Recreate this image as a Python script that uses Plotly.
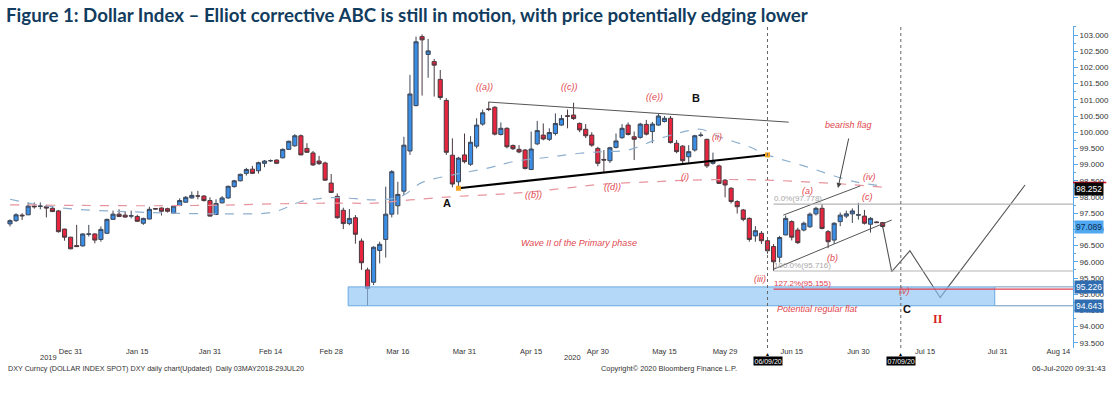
import math
import pandas as pd
import plotly.graph_objects as go

# ---------------- data ----------------
first_day = "2019-12-17"

opens = [97.17, 97.27, 97.44, 97.45, 97.72, 97.71, 97.70, 97.65, 97.57, 97.01,
         96.76, 96.50, 96.49, 96.85, 96.86, 96.69, 96.88, 97.31, 97.47, 97.44,
         97.41, 97.40, 97.19, 97.32, 97.64, 97.66, 97.64, 97.50, 97.74, 97.84,
         97.97, 98.03, 98.03, 97.89, 97.46, 97.82, 97.97, 98.32, 98.50, 98.73,
         98.86, 98.81, 99.04, 99.12, 99.14, 99.21, 99.47, 99.58, 99.89, 99.50,
         99.36, 99.11, 99.05, 98.43, 98.02, 97.59, 97.18, 97.36, 96.64, 95.75,
         95.37, 96.35, 96.69, 97.47, 97.73, 98.18, 99.42, 100.82, 102.95, 102.40,
         102.18, 101.63, 100.98, 99.29, 98.47, 99.30, 99.01, 99.57, 100.25, 100.72,
         100.77, 99.93, 100.12, 99.59, 99.47, 99.45, 98.85, 99.64, 99.91, 99.78,
         99.96, 100.22, 100.51, 100.53, 100.27, 100.09, 99.91, 99.50, 99.16, 99.12,
         99.53, 99.83, 100.22, 99.86, 99.84, 100.24, 100.02, 100.22, 100.33, 100.43,
         99.66, 99.57, 99.24, 99.45, 99.90, 99.78, 99.04, 98.96, 98.52, 98.27,
         97.86, 97.60, 97.34, 96.80, 96.88, 96.65, 96.47, 96.14, 96.83, 97.24,
         96.98, 96.98, 97.08, 97.48, 97.65, 96.93, 96.67, 97.24, 97.41, 97.48,
         97.44, 97.41, 97.16, 97.23, 97.21]
highs = [97.31, 97.50, 97.50, 97.83, 97.83, 97.83, 97.76, 97.72, 97.60, 97.02,
         96.77, 97.14, 96.88, 97.14, 96.88, 97.09, 97.33, 97.58, 97.62, 97.55,
         97.58, 97.45, 97.36, 97.70, 97.66, 97.68, 97.67, 97.74, 97.96, 98.03,
         98.17, 98.19, 98.05, 97.99, 97.93, 98.03, 98.35, 98.53, 98.72, 98.90,
         98.96, 99.09, 99.14, 99.16, 99.16, 99.50, 99.74, 99.94, 99.93, 99.66,
         99.42, 99.27, 99.09, 98.71, 98.11, 97.67, 97.63, 97.44, 96.72, 95.82,
         96.48, 96.62, 98.32, 98.83, 98.47, 99.86, 101.77, 102.95, 103.02, 102.88,
         102.26, 101.92, 101.05, 99.81, 99.24, 99.96, 99.88, 100.43, 100.70, 100.94,
         100.80, 100.30, 100.15, 99.62, 99.60, 99.48, 100.02, 100.35, 100.27, 100.12,
         100.58, 100.53, 100.70, 100.91, 100.30, 100.25, 100.00, 99.55, 99.45, 99.55,
         99.96, 100.25, 100.30, 100.02, 100.29, 100.38, 100.32, 100.56, 100.50, 100.50,
         99.76, 99.60, 99.60, 99.92, 100.00, 99.80, 99.37, 99.00, 98.55, 98.30,
         97.90, 97.63, 97.37, 97.10, 96.95, 96.75, 96.55, 96.80, 97.43, 97.28,
         97.05, 97.24, 97.52, 97.70, 97.78, 96.98, 97.22, 97.52, 97.58, 97.65,
         97.82, 97.60, 97.38, 97.25, 97.23]
lows = [97.09, 97.23, 97.29, 97.44, 97.64, 97.62, 97.37, 97.55, 96.90, 96.65,
        96.39, 96.47, 96.47, 96.78, 96.57, 96.62, 96.87, 97.30, 97.38, 97.36,
        97.34, 97.23, 97.14, 97.31, 97.61, 97.43, 97.52, 97.49, 97.72, 97.82,
        97.95, 97.93, 97.86, 97.40, 97.44, 97.80, 97.95, 98.29, 98.48, 98.66,
        98.71, 98.72, 98.92, 99.08, 99.03, 99.19, 99.45, 99.55, 99.29, 99.36,
        98.96, 98.99, 98.50, 98.12, 97.33, 97.01, 97.13, 96.56, 95.75, 94.65,
        95.28, 95.95, 96.13, 97.37, 97.46, 98.06, 99.30, 100.80, 101.13, 101.68,
        101.10, 101.00, 99.30, 98.30, 98.27, 99.04, 98.96, 99.50, 100.20, 100.65,
        99.90, 99.90, 99.50, 99.45, 99.35, 98.85, 98.83, 99.60, 99.75, 99.73,
        99.90, 100.20, 100.12, 100.38, 100.00, 99.82, 99.55, 98.95, 98.74, 99.05,
        99.50, 99.80, 99.90, 99.14, 99.80, 99.90, 99.66, 100.20, 100.30, 99.65,
        99.35, 99.04, 99.06, 99.40, 99.85, 98.90, 99.00, 98.40, 97.99, 97.80,
        97.49, 97.25, 96.62, 96.62, 96.55, 96.25, 95.72, 95.98, 96.82, 96.66,
        96.55, 96.94, 97.05, 97.43, 97.00, 96.42, 96.55, 97.10, 97.35, 97.20,
        97.30, 97.15, 96.90, 97.20, 97.05]
closes = [97.27, 97.45, 97.42, 97.72, 97.70, 97.72, 97.66, 97.55, 96.93, 96.76,
          96.40, 96.47, 96.86, 96.86, 96.67, 97.00, 97.31, 97.47, 97.40, 97.38,
          97.42, 97.25, 97.34, 97.62, 97.63, 97.56, 97.56, 97.72, 97.89, 97.99,
          98.05, 98.03, 97.89, 97.41, 97.80, 97.97, 98.33, 98.50, 98.70, 98.85,
          98.73, 99.06, 99.11, 99.12, 99.04, 99.47, 99.72, 99.89, 99.30, 99.38,
          98.99, 99.03, 98.52, 98.14, 97.36, 97.18, 97.34, 96.85, 95.97, 95.18,
          96.45, 96.54, 97.47, 98.78, 98.08, 99.60, 101.18, 102.79, 102.85, 102.51,
          102.07, 101.07, 99.38, 98.40, 99.20, 99.09, 99.69, 100.22, 100.60, 100.70,
          99.94, 100.12, 99.55, 99.49, 99.39, 98.88, 99.48, 100.05, 99.79, 99.99,
          100.27, 100.42, 100.49, 100.42, 100.07, 99.89, 99.60, 99.04, 99.14, 99.52,
          99.73, 100.12, 99.93, 99.78, 100.25, 99.94, 100.25, 100.50, 100.43, 99.68,
          99.40, 99.12, 99.40, 99.89, 99.91, 98.96, 99.10, 98.42, 98.37, 97.86,
          97.70, 97.31, 96.69, 96.96, 96.65, 96.34, 96.00, 96.75, 97.34, 96.76,
          96.59, 97.19, 97.47, 97.65, 97.03, 96.62, 97.19, 97.44, 97.48, 97.57,
          97.45, 97.19, 97.34, 97.21, 97.09]

# moving averages (candle number, value)
ma_fast_idx = [1, 6, 12, 20, 28, 36, 44, 47, 49, 54, 58, 61, 64, 66, 69, 74, 80, 84,
               90, 95, 99, 103, 108, 113, 115, 118, 123, 126, 132, 140, 145]
ma_fast_val = [97.93, 97.75, 97.62, 97.55, 97.50, 97.48, 97.52, 97.70, 97.86, 97.98,
               97.95, 97.91, 97.95, 98.06, 98.45, 98.68, 98.90, 99.09, 99.23, 99.35,
               99.40, 99.45, 99.79, 100.05, 100.09, 99.86, 99.55, 99.30, 98.96, 98.49, 98.34]
ma_slow_idx = [1, 12, 24, 36, 48, 56, 61, 67, 74, 81, 87, 94, 99, 107, 113, 120,
               126, 133, 140, 145]
ma_slow_val = [97.76, 97.74, 97.73, 97.75, 97.80, 97.81, 97.81, 97.91, 98.01, 98.08,
               98.16, 98.30, 98.40, 98.47, 98.52, 98.54, 98.52, 98.46, 98.38, 98.30]

# drawn analysis lines: (trading-day offset from first candle, price)
tri_upper_k = [79, 128.5]
tri_upper_p = [100.93, 100.31]
tri_lower_k = [74, 125]
tri_lower_p = [98.27, 99.30]
flag_upper_k = [127.6, 140.3]
flag_upper_p = [97.44, 98.34]
flag_lower_k = [126, 145.5]
flag_lower_p = [95.77, 97.29]
proj_k = [144, 145.5, 148.5, 153.5, 167.5]
proj_p = [97.09, 95.70, 96.34, 94.90, 98.37]

fib_start_k = 126
fib_levels = [97.778, 95.716, 95.155]
fib_labels = ["0.0%(97.778)", "100.0%(95.716)", "127.2%(95.155)"]
zone_k = [55.8, 162.5]
zone_p = [94.643, 95.226]
marker_dates = ["2020-06-09", "2020-07-09"]
marker_texts = ["06/09/20", "07/09/20"]

tag_values = [98.252, 97.089, 95.226, 94.643]

xtick_dates = ["2019-12-31", "2020-01-15", "2020-01-31", "2020-02-14", "2020-02-28",
               "2020-03-16", "2020-03-31", "2020-04-15", "2020-04-30", "2020-05-15",
               "2020-05-29", "2020-06-15", "2020-06-30", "2020-07-15", "2020-07-31",
               "2020-08-14"]
xtick_text = ["Dec 31", "Jan 15", "Jan 31", "Feb 14", "Feb 28", "Mar 16", "Mar 31",
              "Apr 15", "Apr 30", "May 15", "May 29", "Jun 15", "Jun 30", "Jul 15",
              "Jul 31", "Aug 14"]
ytick_vals = [93.5 + 0.5 * i for i in range(20)]

# ---------------- helpers ----------------
WD = pd.bdate_range("2019-11-01", "2020-12-31")
S0 = WD.get_loc(pd.Timestamp(first_day))


def tk(k):
    f = math.floor(k)
    return WD[S0 + f] + pd.Timedelta(days=k - f)


# pixel helpers for placing text labels
PX_DAY, X0 = 6.06, 10.0
PT, PB, PR = 26, 348, 1073


def xpx(px):
    return tk((px - X0) / PX_DAY)


def ypx(py):
    return 103 - (py - 35) / 32.4


def py_paper(py):
    return (PB - py) / (PB - PT)


dates = [tk(i) for i in range(len(opens))]
x_left, x_right = tk(-X0 / PX_DAY), tk((PR - X0) / PX_DAY)
y_bot, y_top = ypx(PB), ypx(PT)

fig = go.Figure()

fig.add_trace(go.Candlestick(
    x=dates, open=opens, high=highs, low=lows, close=closes,
    increasing=dict(fillcolor="#3a8ee6", line=dict(color="#3d4656", width=1)),
    decreasing=dict(fillcolor="#e8253f", line=dict(color="#4a3a40", width=1)),
    whiskerwidth=0, hoverinfo="skip", showlegend=False))

fig.add_trace(go.Scatter(
    x=[dates[i - 1] for i in ma_fast_idx], y=ma_fast_val, mode="lines",
    line=dict(color="#8eb0cf", width=1.2, dash="dash", shape="spline"),
    hoverinfo="skip", showlegend=False))
fig.add_trace(go.Scatter(
    x=[dates[i - 1] for i in ma_slow_idx], y=ma_slow_val, mode="lines",
    line=dict(color="#e8949e", width=1.2, dash="dash", shape="spline"),
    hoverinfo="skip", showlegend=False))

# analysis lines
for ks, ps, col, w in [(tri_upper_k, tri_upper_p, "#555555", 1),
                       (tri_lower_k, tri_lower_p, "#000000", 2.2),
                       (flag_upper_k, flag_upper_p, "#555555", 1),
                       (flag_lower_k, flag_lower_p, "#555555", 1),
                       (proj_k, proj_p, "#555555", 1.1)]:
    fig.add_trace(go.Scatter(x=[tk(k) for k in ks], y=ps, mode="lines",
                             line=dict(color=col, width=w), hoverinfo="skip",
                             showlegend=False))

fig.add_trace(go.Scatter(
    x=[tk(tri_lower_k[0]), tk(tri_lower_k[1])], y=tri_lower_p, mode="markers",
    marker=dict(symbol="square", size=5, color="#f5a623"),
    hoverinfo="skip", showlegend=False))

# clipped red "I" at the very top (only its foot shows, as in the reference)
fig.add_trace(go.Scatter(
    x=[xpx(434)], y=[ypx(22)], mode="text", text=["<b>I</b>"],
    textfont=dict(color="#e02020", size=10, family="Liberation Serif"),
    cliponaxis=True, hoverinfo="skip", showlegend=False))

shapes = []
# support zone
shapes.append(dict(type="rect", xref="x", yref="y", x0=tk(zone_k[0]), x1=tk(zone_k[1]),
                   y0=zone_p[0], y1=zone_p[1], fillcolor="rgba(140,195,245,0.65)",
                   line=dict(color="#6aa8e0", width=1), layer="above"))
for p in zone_p:
    shapes.append(dict(type="line", xref="x", yref="y", x0=tk(zone_k[1]), x1=x_right,
                       y0=p, y1=p, line=dict(color="#6f95bd", width=1)))
# fib lines
for lvl, col in zip(fib_levels, ["#b5b5b5", "#b5b5b5", "#e0404f"]):
    shapes.append(dict(type="line", xref="x", yref="y", x0=tk(fib_start_k), x1=x_right,
                       y0=lvl, y1=lvl, line=dict(color=col, width=1.2)))
# vertical date markers
for d in marker_dates:
    shapes.append(dict(type="line", xref="x", yref="paper", x0=d, x1=d, y0=0, y1=1,
                       line=dict(color="#666666", width=1, dash="dot")))
# red line on black tag
shapes.append(dict(type="line", xref="paper", yref="y", x0=1.0, x1=1.031,
                   y0=98.45, y1=98.45, line=dict(color="#d0021b", width=1.5)))

ann = []
red = "#e0474f"
red_labels = [("((a))", 484, 87), ("((c))", 569, 87), ("((e))", 654, 97),
              ("((b))", 533, 195), ("((d))", 612, 187), ("(i)", 685, 177),
              ("(ii)", 717, 137), ("(iii)", 760, 279), ("(iv)", 869, 177),
              ("(v)", 904, 291), ("(a)", 807, 191), ("(b)", 832, 258),
              ("(c)", 867, 197), ("bearish flag", 848, 125),
              ("Wave II of the Primary phase", 579, 243),
              ("Potential regular flat", 817, 309)]
for t, x, y in red_labels:
    ann.append(dict(x=xpx(x), y=ypx(y), text="<i>" + t + "</i>", showarrow=False,
                    font=dict(color=red, size=9, family="Liberation Sans")))
for t, x, y in [("A", 447, 203), ("B", 696, 98), ("C", 907, 309)]:
    ann.append(dict(x=xpx(x), y=ypx(y), text="<b>" + t + "</b>", showarrow=False,
                    font=dict(color="#111111", size=11, family="Liberation Sans")))
ann.append(dict(x=xpx(938), y=ypx(319), text="<b>II</b>", showarrow=False,
                font=dict(color="#d81e1e", size=12, family="Liberation Serif")))
# fib texts
for lbl, lvl, col in zip(fib_labels, fib_levels, ["#a8a8a8", "#a8a8a8", "#e0404f"]):
    ann.append(dict(x=tk(fib_start_k), y=lvl, text=lbl, showarrow=False,
                    xanchor="left", yanchor="bottom", xshift=-2, yshift=-1,
                    font=dict(color=col, size=8, family="Liberation Sans")))
# bearish flag arrow
ann.append(dict(x=xpx(838), y=ypx(188), ax=11, ay=-51, text="", showarrow=True,
                arrowhead=2, arrowsize=1, arrowwidth=1, arrowcolor="#444444"))

# title
ann.append(dict(xref="paper", yref="paper", x=4 / PR, y=py_paper(15), xanchor="left",
                yanchor="middle", showarrow=False,
                text="<b>Figure 1: Dollar Index \u2013 Elliot corrective ABC is still in motion, with price potentially edging lower</b>",
                font=dict(color="#123c5e", size=18.7, family="Lato")))

# price tags on the right axis
tag_styles = [("#0a0a0a", "#ffffff"), ("#4fa8f0", "#0c2c50"),
              ("#2f6db0", "#ffffff"), ("#2f6db0", "#ffffff")]
for v, (bg, fc) in zip(tag_values, tag_styles):
    ann.append(dict(xref="paper", yref="y", x=1.0, y=v, xanchor="left", xshift=1,
                    text="%.3f" % v, showarrow=False, bgcolor=bg, borderpad=1,
                    font=dict(color=fc, size=8.5, family="Liberation Sans")))

# date marker boxes under axis
for d, t in zip(marker_dates, marker_texts):
    ann.append(dict(x=d, xref="x", yref="paper", y=py_paper(366), text=t,
                    showarrow=False, bgcolor="#000000", borderpad=0.5,
                    font=dict(color="#ffffff", size=7, family="Liberation Sans")))
    ann.append(dict(x=d, xref="x", yref="paper", y=py_paper(358.5), text="\u25b2",
                    showarrow=False, font=dict(color="#000000", size=5)))

small = dict(color="#333333", size=7.5, family="Liberation Sans")
ann.append(dict(xref="paper", yref="paper", x=38 / PR, y=py_paper(364), text="2019",
                showarrow=False, font=small))
ann.append(dict(xref="paper", yref="paper", x=572 / PR, y=py_paper(364), text="2020",
                showarrow=False, font=small))
ann.append(dict(xref="paper", yref="paper", x=6 / PR, y=py_paper(375), xanchor="left",
                text="DXY Curncy (DOLLAR INDEX SPOT) DXY daily chart(Updated)  Daily 03MAY2018-29JUL20",
                showarrow=False, font=dict(color="#333333", size=7.2, family="Liberation Sans")))
ann.append(dict(xref="paper", yref="paper", x=669 / PR, y=py_paper(375),
                text="Copyright\u00a9 2020 Bloomberg Finance L.P.", showarrow=False,
                font=dict(color="#333333", size=7.4, family="Liberation Sans")))
ann.append(dict(xref="paper", yref="paper", x=1108 / PR, y=py_paper(375), xanchor="right",
                text="06-Jul-2020 09:31:43", showarrow=False,
                font=dict(color="#333333", size=7.8, family="Liberation Sans")))

fig.update_layout(
    width=1117, height=393, autosize=False,
    margin=dict(l=0, r=1117 - PR, t=PT, b=393 - PB),
    paper_bgcolor="white", plot_bgcolor="white",
    boxgap=0.2, boxgroupgap=0.15,
    shapes=shapes, annotations=ann, showlegend=False,
    xaxis=dict(type="date", range=[x_left, x_right],
               rangebreaks=[dict(bounds=["sat", "mon"])],
               rangeslider=dict(visible=False), showgrid=False, zeroline=False,
               showline=False, ticks="", ticklen=0, tickmode="array",
               tickvals=xtick_dates, ticktext=xtick_text, automargin=False,
               ticklabelstandoff=-3,
               tickfont=dict(size=7.5, color="#333333", family="Liberation Sans")),
    yaxis=dict(side="right", range=[y_bot, y_top], showgrid=False, zeroline=False,
               showline=True, linecolor="#5aa9e6", linewidth=1, automargin=False,
               ticks="outside", ticklen=4, tickcolor="#5aa9e6",
               tickmode="array", tickvals=ytick_vals, tickformat=".3f",
               tickfont=dict(size=8, color="#333333", family="Liberation Sans"),
               minor=dict(ticks="outside", ticklen=2, tickcolor="#5aa9e6",
                          tickmode="array",
                          tickvals=[93.25 + 0.5 * i for i in range(21)])),
)

fig.write_html("out.html", config={"displayModeBar": False},
               post_script="document.body.style.margin='0px';document.body.style.padding='0px';")
